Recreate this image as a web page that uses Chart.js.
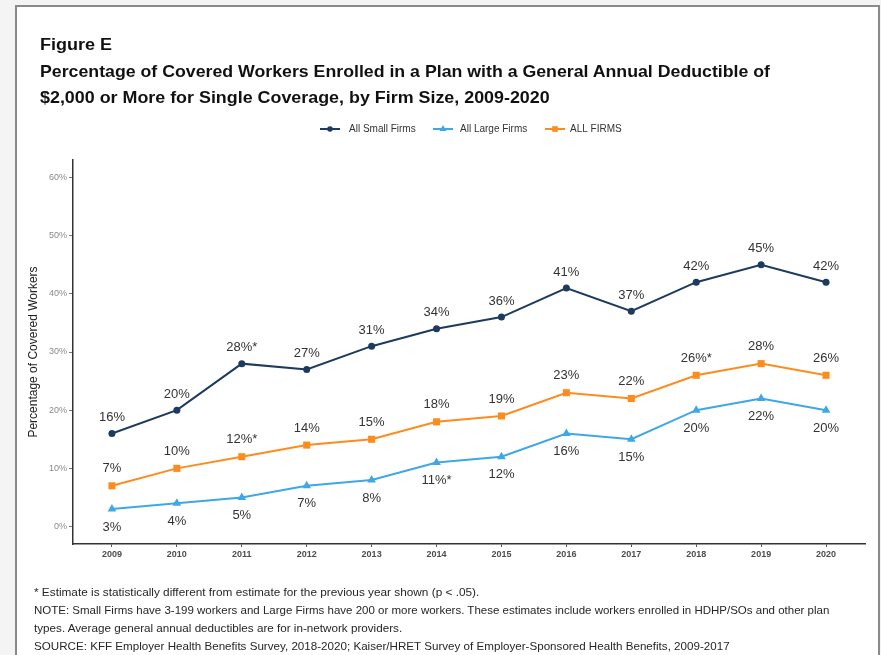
<!DOCTYPE html>
<html lang="en">
<head>
<meta charset="UTF-8">
<title>Figure E</title>
<style>
  html, body { margin: 0; padding: 0; }
  body { width: 881px; height: 655px; background: #f4f4f4; position: relative; overflow: hidden;
         font-family: "Liberation Sans", Arial, sans-serif; }
  #card { position: absolute; left: 15px; top: 5px; width: 865px; height: 700px;
          background: #fff; border: 2px solid #8a8a8a; box-sizing: border-box; }
  #myChart { position: absolute; left: 0; top: 0; }
  .txt { position: absolute; white-space: nowrap; transform-origin: 0 50%; }
  .ttl { font-weight: bold; color: #111; font-size: 17px; line-height: 20px; }
  .note { font-size: 11px; line-height: 18px; color: #262626; }
</style>
</head>
<body>
<div id="card"></div>
<canvas id="myChart" width="881" height="655"></canvas>

<div class="txt ttl" style="left:40px; top:35px; font-size:16px" data-w="72">Figure E</div>
<div class="txt ttl" style="left:40px; top:62px" data-w="730">Percentage of Covered Workers Enrolled in a Plan with a General Annual Deductible of</div>
<div class="txt ttl" style="left:40px; top:88px" data-w="510">$2,000 or More for Single Coverage, by Firm Size, 2009-2020</div>

<div class="txt note" style="left:34px; top:583px" data-w="445">* Estimate is statistically different from estimate for the previous year shown (p &lt; .05).</div>
<div class="txt note" style="left:34px; top:601px" data-w="795">NOTE: Small Firms have 3-199 workers and Large Firms have 200 or more workers. These estimates include workers enrolled in HDHP/SOs and other plan</div>
<div class="txt note" style="left:34px; top:619px" data-w="368">types. Average general annual deductibles are for in-network providers.</div>
<div class="txt note" style="left:34px; top:637px" data-w="696">SOURCE: KFF Employer Health Benefits Survey, 2018-2020; Kaiser/HRET Survey of Employer-Sponsored Health Benefits, 2009-2017</div>

<script src="https://cdn.jsdelivr.net/npm/chart.js"></script>
<script>
// squeeze the narrow-looking text to the widths seen in the figure
document.querySelectorAll('.txt').forEach(function (el) {
    var w = parseFloat(el.dataset.w);
    el.style.transform = 'scaleX(' + (w / el.scrollWidth) + ')';
});

const years = [2009, 2010, 2011, 2012, 2013, 2014, 2015, 2016, 2017, 2018, 2019, 2020];
const smallFirms = [16, 20, 28, 27, 31, 34, 36, 41, 37, 42, 45, 42];
const largeFirms = [3, 4, 5, 7, 8, 11, 12, 16, 15, 20, 22, 20];
const allFirms = [7, 10, 12, 14, 15, 18, 19, 23, 22, 26, 28, 26];
// points marked with * (significant change from previous year)
const smallStars = [2011];
const largeStars = [2014];
const allStars = [2011, 2018];
const yTicks = [0, 10, 20, 30, 40, 50, 60];

const navy = '#1d3a5f';
const blue = '#3fa7e6';
const orange = '#fd8c1e';

function pts(vals) {
    return years.map(function (yr, i) { return { x: yr, y: vals[i] }; });
}

const series = [
    { label: 'All Small Firms', data: smallFirms, stars: smallStars, color: navy, style: 'circle', radius: 3.5, off: -16 },
    { label: 'All Large Firms', data: largeFirms, stars: largeStars, color: blue, style: 'triangle', radius: 5, off: 18 },
    { label: 'ALL FIRMS', data: allFirms, stars: allStars, color: orange, style: 'rect', radius: 5, off: -17 }
];

// value labels above / below each point
const valueLabels = {
    id: 'valueLabels',
    afterDatasetsDraw(chart) {
        const c = chart.ctx;
        c.save();
        c.font = '13px "Liberation Sans", Arial, sans-serif';
        c.fillStyle = '#333';
        c.textAlign = 'center';
        c.textBaseline = 'middle';
        series.forEach(function (s, di) {
            chart.getDatasetMeta(di).data.forEach(function (p, i) {
                let t = s.data[i] + '%';
                if (s.stars.indexOf(years[i]) >= 0) t += '*';
                c.fillText(t, p.x, p.y + s.off);
            });
        });
        c.restore();
    }
};

// legend drawn like the original (line + marker)
const legendLines = {
    id: 'legendLines',
    afterDraw(chart) {
        const c = chart.ctx;
        const pos = [[320, 349, 70], [433, 460, 72], [545, 570, 58]];
        const y = 129;
        c.save();
        c.font = '10px "Liberation Sans", Arial, sans-serif';
        c.textBaseline = 'middle';
        series.forEach(function (s, i) {
            const p = pos[i];
            c.strokeStyle = s.color;
            c.lineWidth = 2;
            c.beginPath();
            c.moveTo(p[0], y);
            c.lineTo(p[0] + 20, y);
            c.stroke();
            c.fillStyle = s.color;
            Chart.helpers.drawPoint(c, { pointStyle: s.style, radius: s.radius * 0.8, borderWidth: 0 }, p[0] + 10, y);
            c.fillStyle = '#333';
            c.fillText(s.label, p[1], y, p[2]);
        });
        c.restore();
    }
};

new Chart(document.getElementById('myChart'), {
    type: 'line',
    data: {
        datasets: series.map(function (s) {
            return {
                label: s.label,
                data: pts(s.data),
                borderColor: s.color,
                backgroundColor: s.color,
                borderWidth: 2,
                pointStyle: s.style,
                pointRadius: s.radius,
                pointBorderWidth: 0,
                tension: 0
            };
        })
    },
    options: {
        responsive: false,
        devicePixelRatio: 1,
        animation: false,
        layout: { padding: { left: 0, top: 160, right: 16, bottom: 91 } },
        plugins: { legend: { display: false }, tooltip: { enabled: false } },
        scales: {
            x: {
                type: 'linear',
                min: 2008.4,
                max: 2020.6,
                afterBuildTicks(scale) { scale.ticks = years.map(function (v) { return { value: v }; }); },
                afterFit(scale) { scale.height = 20; },
                grid: { drawOnChartArea: false, drawTicks: true, tickLength: 3, color: '#555' },
                border: { display: true, color: '#333', width: 1.5 },
                ticks: {
                    padding: 2,
                    color: '#4d4d4d',
                    font: { family: '"Liberation Sans", Arial, sans-serif', size: 9, weight: 'bold' },
                    callback(v) { return String(v); }
                }
            },
            y: {
                min: -3,
                max: 63,
                afterBuildTicks(scale) { scale.ticks = yTicks.map(function (v) { return { value: v }; }); },
                afterFit(scale) { scale.width = 73; },
                grid: { drawOnChartArea: false, drawTicks: true, tickLength: 4, color: '#777' },
                border: { display: true, color: '#333', width: 1.5 },
                ticks: {
                    padding: 2,
                    color: '#8a8a8a',
                    font: { family: '"Liberation Sans", Arial, sans-serif', size: 9 },
                    callback(v) { return v + '%'; }
                },
                title: {
                    display: true,
                    text: 'Percentage of Covered Workers',
                    color: '#222',
                    font: { family: '"Liberation Sans", Arial, sans-serif', size: 12 },
                    padding: { top: 26, bottom: 0 }
                }
            }
        }
    },
    plugins: [valueLabels, legendLines]
});
</script>
</body>
</html>
